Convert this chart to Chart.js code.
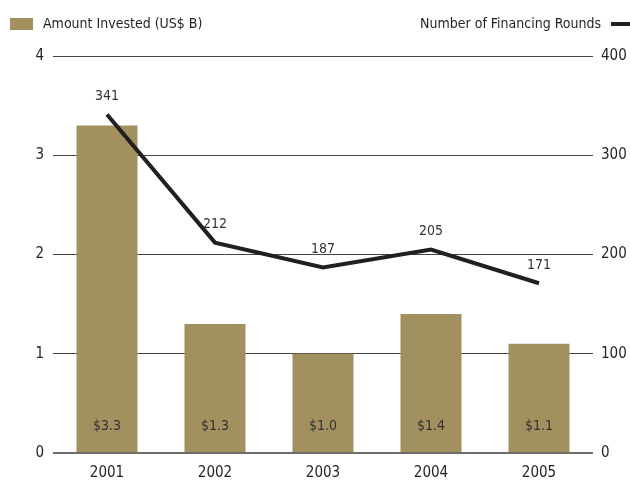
<!DOCTYPE html>
<html>
<head>
<meta charset="utf-8">
<script src="https://cdn.jsdelivr.net/npm/chart.js@4"></script>
<style>
  html, body { margin: 0; padding: 0; background: #fff; }
  #wrap { width: 630px; height: 481px; }
</style>
</head>
<body>
<div id="wrap"><canvas id="graph"></canvas></div>
<script>
const years = ['2001', '2002', '2003', '2004', '2005'];
const amountInvested = [3.3, 1.3, 1.0, 1.4, 1.1];
const amountLabels = ['$3.3', '$1.3', '$1.0', '$1.4', '$1.1'];
const financingRounds = [341, 212, 187, 205, 171];
const leftTicks = [0, 1, 2, 3, 4];
const rightTicks = [0, 100, 200, 300, 400];

const FONT = '"Liberation Sans Narrow", "DejaVu Sans Condensed", "Liberation Sans", sans-serif';
const GOLD = '#a2915f';
const INK = '#231f20';

const labelPlugin = {
    id: 'labels',
    afterDatasetsDraw(chart) {
        const c = chart.ctx;
        const x = chart.scales.x;
        const y = chart.scales.y;
        const y1 = chart.scales.y1;
        c.save();
        c.font = '14px ' + FONT;
        c.fillStyle = '#333';
        c.textAlign = 'center';
        c.textBaseline = 'middle';
        amountLabels.forEach((t, i) => {
            c.fillText(t, x.getPixelForValue(i), y.getPixelForValue(0) - 27);
        });
        financingRounds.forEach((v, i) => {
            c.fillText(String(v), x.getPixelForValue(i), y1.getPixelForValue(v) - 18);
        });

        // legend
        c.fillStyle = GOLD;
        c.fillRect(10, 18, 23, 12);
        c.fillStyle = INK;
        c.textAlign = 'left';
        c.fillText('Amount Invested (US$ B)', 43, 24);
        c.textAlign = 'right';
        c.fillText('Number of Financing Rounds', 601, 24);
        c.fillRect(611, 22, 19, 4);
        c.restore();
    }
};

new Chart(document.getElementById('graph').getContext('2d'), {
    data: {
        labels: years,
        datasets: [{
            type: 'line',
            label: 'Number of Financing Rounds',
            data: financingRounds,
            yAxisID: 'y1',
            borderColor: INK,
            borderWidth: 4,
            pointRadius: 0,
            tension: 0,
            order: 0
        }, {
            type: 'bar',
            label: 'Amount Invested (US$ B)',
            data: amountInvested,
            yAxisID: 'y',
            backgroundColor: GOLD,
            categoryPercentage: 0.565,
            barPercentage: 1,
            order: 1
        }]
    },
    options: {
        responsive: true,
        maintainAspectRatio: false,
        animation: false,
        layout: { padding: { top: 56, left: 0, right: 0, bottom: 0 } },
        scales: {
            x: {
                grid: { display: false },
                border: { display: false },
                ticks: { color: INK, font: { family: FONT, size: 15 }, padding: 3 },
                afterFit: (s) => { s.height = 28; }
            },
            y: {
                position: 'left',
                min: 0,
                max: 4,
                afterBuildTicks: (s) => { s.ticks = leftTicks.map(v => ({ value: v })); },
                ticks: { color: INK, font: { family: FONT, size: 15 }, padding: 9 },
                grid: {
                    color: (ctx) => ctx.tick.value === 0 ? '#6d6d6d' : '#444',
                    lineWidth: (ctx) => ctx.tick.value === 0 ? 2 : 1,
                    drawTicks: false
                },
                border: { display: false },
                afterFit: (s) => { s.width = 53; }
            },
            y1: {
                position: 'right',
                min: 0,
                max: 400,
                afterBuildTicks: (s) => { s.ticks = rightTicks.map(v => ({ value: v })); },
                ticks: { color: INK, font: { family: FONT, size: 15 }, padding: 8 },
                grid: { display: false, drawTicks: false },
                border: { display: false },
                afterFit: (s) => { s.width = 37; }
            }
        },
        plugins: {
            legend: { display: false },
            tooltip: { enabled: false }
        }
    },
    plugins: [labelPlugin]
});
</script>
</body>
</html>
